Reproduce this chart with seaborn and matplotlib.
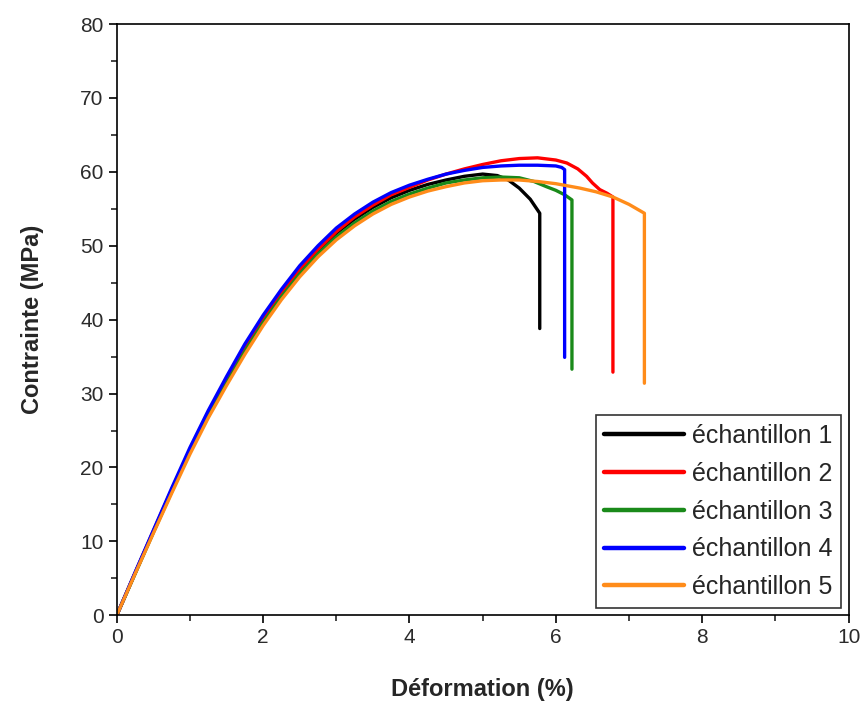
import matplotlib
matplotlib.use("Agg")
import matplotlib.pyplot as plt
from matplotlib.ticker import MultipleLocator
import pandas as pd
import seaborn as sns

# strain (%) / stress (MPa)
rise = [0, 0.25, 0.5, 0.75, 1.0, 1.25, 1.5, 1.75, 2.0, 2.25, 2.5, 2.75, 3.0,
        3.25, 3.5, 3.75, 4.0, 4.25, 4.5, 4.75, 5.0]

strain_1 = rise + [5.2, 5.35, 5.5, 5.65, 5.78, 5.78]
stress_1 = [0, 5.7, 11.3, 16.9, 22.3, 27.2, 31.8, 36.1, 40.0, 43.5, 46.6, 49.3, 51.7,
            53.6, 55.2, 56.5, 57.5, 58.3, 58.9, 59.4, 59.7,
            59.5, 58.9, 57.8, 56.3, 54.4, 38.8]

strain_2 = rise + [5.25, 5.5, 5.75, 6.0, 6.15, 6.3, 6.42, 6.5, 6.6, 6.7, 6.78, 6.78]
stress_2 = [0, 5.7, 11.4, 17.0, 22.4, 27.3, 31.9, 36.2, 40.1, 43.6, 46.8, 49.5, 51.9,
            53.9, 55.5, 56.9, 57.9, 58.9, 59.7, 60.4, 61.0,
            61.5, 61.8, 61.9, 61.6, 61.2, 60.4, 59.4, 58.5, 57.6, 57.1, 56.6, 32.9]

strain_3 = rise + [5.25, 5.5, 5.7, 5.87, 6.0, 6.12, 6.22, 6.22]
stress_3 = [0, 5.6, 11.2, 16.7, 22.1, 26.9, 31.4, 35.7, 39.6, 43.1, 46.2, 48.9, 51.2,
            53.1, 54.7, 56.0, 57.0, 57.8, 58.5, 58.9, 59.2,
            59.3, 59.2, 58.7, 58.0, 57.5, 56.9, 56.2, 33.3]

strain_4 = rise + [5.25, 5.5, 5.75, 6.0, 6.08, 6.12, 6.12]
stress_4 = [0, 5.8, 11.5, 17.2, 22.7, 27.7, 32.3, 36.7, 40.6, 44.1, 47.3, 50.0, 52.4,
            54.3, 55.9, 57.2, 58.2, 59.0, 59.7, 60.2, 60.6,
            60.8, 60.9, 60.9, 60.8, 60.6, 60.3, 34.9]

strain_5 = rise + [5.25, 5.5, 5.75, 6.0, 6.33, 6.55, 6.78, 7.0, 7.21, 7.21]
stress_5 = [0, 5.6, 11.1, 16.5, 21.8, 26.7, 31.1, 35.3, 39.2, 42.7, 45.8, 48.5, 50.8,
            52.7, 54.3, 55.6, 56.6, 57.4, 58.0, 58.5, 58.8,
            58.9, 58.9, 58.7, 58.4, 57.8, 57.3, 56.6, 55.6, 54.4, 31.4]

samples = ["échantillon 1", "échantillon 2", "échantillon 3", "échantillon 4", "échantillon 5"]
colors = ["#000000", "#ff0000", "#1a8a1a", "#0000ff", "#ff8c1a"]

frames = []
for name, xs, ys in zip(samples,
                        [strain_1, strain_2, strain_3, strain_4, strain_5],
                        [stress_1, stress_2, stress_3, stress_4, stress_5]):
    frames.append(pd.DataFrame({"strain": xs, "stress": ys, "sample": name}))
df = pd.concat(frames, ignore_index=True)

sns.set_style("ticks")
plt.rcParams["font.family"] = ["Liberation Sans", "DejaVu Sans"]

fig = plt.figure(figsize=(8.65, 7.08), dpi=100)
ax = fig.add_axes([0.135, 0.131, 0.846, 0.835])

sns.lineplot(data=df, x="strain", y="stress", hue="sample", hue_order=samples,
             palette=colors, estimator=None, sort=False, units="sample",
             linewidth=2.4, ax=ax)

ax.set_xlim(0, 10)
ax.set_ylim(0, 80)
ax.xaxis.set_major_locator(MultipleLocator(2))
ax.xaxis.set_minor_locator(MultipleLocator(1))
ax.yaxis.set_major_locator(MultipleLocator(10))
ax.yaxis.set_minor_locator(MultipleLocator(5))
ax.tick_params(which="major", direction="out", length=6, width=1.2,
               labelsize=15, colors="black", labelcolor="#2b2b2b")
ax.tick_params(which="minor", direction="out", length=4, width=1.2)
for side in ["top", "right"]:
    ax.spines[side].set_visible(True)
for sp in ax.spines.values():
    sp.set_linewidth(1.2)
    sp.set_color("black")

ax.set_xlabel("Déformation (%)", fontsize=17, fontweight="bold", labelpad=22)
ax.set_ylabel("Contrainte (MPa)", fontsize=17, fontweight="bold", labelpad=26)

leg = ax.legend(loc="lower right", fontsize=18, frameon=True, fancybox=False,
                edgecolor="black", handlelength=3.2, handletextpad=0.3,
                borderaxespad=0.3, labelspacing=0.55, borderpad=0.35)
leg.get_frame().set_linewidth(1.2)
for line in leg.get_lines():
    line.set_linewidth(3.2)

fig.savefig("out.png", dpi=100)
